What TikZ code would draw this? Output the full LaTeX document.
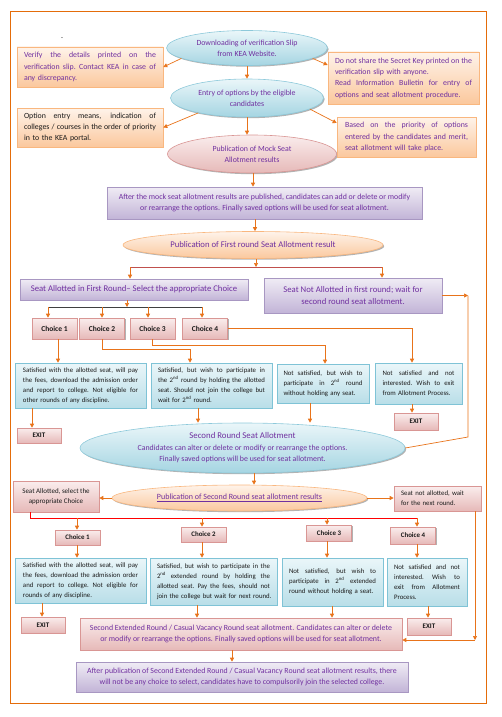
\documentclass[tikz,border=0pt]{standalone}
\usepackage{fontspec}
\setmainfont{Carlito}
\usetikzlibrary{shapes.geometric,arrows.meta,shadows,calc}
\definecolor{purp}{HTML}{7030A0}
\definecolor{ornl}{HTML}{E8731A}
\definecolor{brl}{HTML}{C0504D}
\definecolor{bord}{HTML}{E46C0A}
\definecolor{blB}{HTML}{8DC9DA}
\definecolor{blT}{HTML}{EAF6F9}
\definecolor{blBot}{HTML}{A5D5E2}
\definecolor{pkB}{HTML}{D99694}
\definecolor{pkT}{HTML}{FAEDED}
\definecolor{pkBot}{HTML}{E6B9B8}
\definecolor{peB}{HTML}{F9B77F}
\definecolor{peT}{HTML}{FEF3EA}
\definecolor{peBot}{HTML}{FBC89D}
\definecolor{lvB}{HTML}{A897C2}
\definecolor{lvT}{HTML}{F0ECF5}
\definecolor{lvBot}{HTML}{C2B4D7}
\definecolor{bbB}{HTML}{7FC3D6}
\definecolor{bbT}{HTML}{EAF6F9}
\definecolor{bbBot}{HTML}{B9DEE8}
\definecolor{txt}{HTML}{1A1A1A}
\newcommand\jline[1]{\noindent\hbox to \linewidth{\spaceskip=\fontdimen2\font plus 1fil minus 0.3\fontdimen2\font\relax\xspaceskip=\spaceskip #1}\par}
\newcommand\pline[1]{\noindent\hbox{#1}\par}
\newcommand\fA{\fontsize{7.85}{11.3}\selectfont}
\newcommand\fB{\fontsize{6.8}{10}\selectfont}
\newcommand\fC{\fontsize{8.7}{12.5}\selectfont}
\begin{document}
\begin{tikzpicture}[x=1pt,y=-1pt,
 shad/.style={drop shadow={shadow xshift=1.2pt,shadow yshift=-1.2pt,opacity=0.3,fill=black}},
 ell/.style={ellipse,inner sep=0pt,align=center,shad,line width=0.6pt},
 blueell/.style={ell,draw=blB,top color=blT,bottom color=blBot,text=purp},
 pinkell/.style={ell,draw=pkB,top color=pkT,bottom color=pkBot,text=purp},
 peachell/.style={ell,draw=peB,top color=peT,bottom color=peBot,text=purp},
 box/.style={rectangle,inner ysep=0pt,shad,line width=0.6pt},
 peachbox/.style={box,draw=peB,top color=peT,bottom color=peBot},
 lavbox/.style={box,draw=lvB,top color=lvT,bottom color=lvBot,text=purp,align=center},
 bluebox/.style={box,draw=bbB,top color=bbT,bottom color=bbBot,text=txt,font=\fB,align=left},
 pinkbox/.style={box,draw=pkB,top color=pkT,bottom color=pkBot},
 chbox/.style={pinkbox,text=txt,font=\bfseries\fontsize{7.5}{8}\selectfont,minimum width=45pt},
 chboxb/.style={pinkbox,text=txt,font=\bfseries\fontsize{6.9}{8}\selectfont,minimum width=45pt},
 exbox/.style={pinkbox,text=txt,font=\bfseries\fontsize{7}{8}\selectfont,minimum width=44pt},
 arr/.style={draw=ornl,line width=0.7pt,-{Triangle[length=4pt,width=4pt]}},
 ln/.style={draw=ornl,line width=0.7pt},
 brln/.style={draw=brl,line width=0.8pt},
 blkln/.style={draw=black!75,line width=0.8pt},
 redln/.style={draw=red,line width=0.8pt}]
\useasboundingbox (0,0) rectangle (501,717);
\draw[draw=bord,line width=0.9pt] (10,11) rectangle (486,703);
\node[font=\fA] (dot) at (62,38) {.};

% top ellipses
\node[blueell,font=\fA,minimum width=161pt,minimum height=35pt] (e1) at (247,48) {Downloading of verification Slip\\from KEA Website.};
\node[blueell,font=\fA,minimum width=153pt,minimum height=38pt] (e2) at (247,98) {Entry of options by the eligible\\candidates};
\node[pinkell,font=\fA,minimum width=169pt,minimum height=38pt] (e3) at (252,154) {Publication of Mock Seat\\Allotment results};

% side boxes
\node[peachbox,text=purp,font=\fA,text width=132pt,inner xsep=7pt,minimum height=40pt,align=left] (lb1) at (90,67)
 {\jline{Verify the details printed on the}\jline{verification slip. Contact KEA in case of}\pline{any discrepancy.}};
\node[peachbox,text=txt,font=\fA,text width=132pt,inner xsep=7pt,minimum height=39pt,align=left] (lb2) at (90,127.5)
 {\jline{Option entry means, indication of}\jline{colleges / courses in the order of priority}\pline{in to the KEA portal.}};
\node[peachbox,text=purp,font=\fA,text width=137pt,inner xsep=7pt,minimum height=52pt,align=left] (rb1) at (403.5,78)
 {\jline{Do not share the Secret Key printed on the}\pline{verification slip with anyone.}\jline{Read Information Bulletin for entry of}\pline{options and seat allotment procedure.}};
\node[peachbox,text=purp,font=\fA,text width=123pt,inner xsep=8pt,minimum height=40pt,align=left] (rb2) at (406.5,137)
 {\jline{Based on the priority of options}\jline{entered by the candidates and merit,}\pline{seat allotment will take place.}};

\node[lavbox,font=\fA,minimum width=315pt,minimum height=32pt] (pm) at (264.5,203)
 {After the mock seat allotment results are published, candidates can add or delete or modify\\or rearrange the options. Finally saved options will be used for seat allotment.};
\node[peachell,font=\fC,minimum width=260pt,minimum height=27pt] (p1) at (253,245) {Publication of First round Seat Allotment result};

\node[lavbox,font=\fC,minimum width=228pt,minimum height=21pt] (sa) at (134,289.5) {Seat Allotted in First Round– Select the appropriate Choice};
\node[lavbox,font=\fC,minimum width=178pt,minimum height=35pt] (sn) at (353,295.5) {Seat Not Allotted in first round; wait for\\second round seat allotment.};

% first round choices
\node[chbox,minimum height=21pt] (ch1) at (54.5,328.5) {Choice 1};
\node[chbox,minimum height=21pt] (ch2) at (102,328.5) {Choice 2};
\node[chbox,minimum height=21pt] (ch3) at (152.5,328.5) {Choice 3};
\node[chbox,minimum height=21pt] (ch4) at (205,328.5) {Choice 4};

\node[bluebox,text width=115pt,inner xsep=8pt,minimum height=45pt] (d1) at (80.5,385.5)
 {\jline{Satisfied with the allotted seat, will pay}\jline{the fees, download the admission order}\jline{and report to college. Not eligible for}\pline{other rounds of any discipline.}};
\node[bluebox,text width=107pt,inner xsep=7pt,minimum height=45pt] (d2) at (211.5,385.5)
 {\jline{Satisfied, but wish to participate in}\jline{the 2\textsuperscript{nd} round by holding the allotted}\jline{seat. Should not join the college but}\pline{wait for 2\textsuperscript{nd} round.}};
\node[bluebox,text width=79pt,inner xsep=6.5pt,minimum height=39pt] (d3) at (323,383.5)
 {\jline{Not satisfied, but wish to}\jline{participate in 2\textsuperscript{nd} round}\pline{without holding any seat.}};
\node[bluebox,text width=72pt,inner xsep=7.5pt,minimum height=41pt] (d4) at (418.5,383.5)
 {\jline{Not satisfied and not}\jline{interested. Wish to exit}\pline{from Allotment Process.}};

\node[exbox,minimum height=15pt] (ex1) at (39,435.5) {EXIT};
\node[exbox,minimum height=17pt] (ex4) at (416,421.5) {EXIT};

% second round
\node[blueell,font=\fontsize{7.85}{11.5}\selectfont,minimum width=325pt,minimum height=50pt] (e4) at (242.5,448)
 {{\fontsize{8.8}{11.5}\selectfont Second Round Seat Allotment}\\Candidates can alter or delete or modify or rearrange the options.\\Finally saved options will be used for seat allotment.};
\node[peachell,font=\fontsize{8}{10}\selectfont,minimum width=255pt,minimum height=26pt] (p2) at (239.5,498) {\underline{Publication of Second Round seat allotment results}};
\node[pinkbox,text=txt,font=\fontsize{7}{10}\selectfont,align=center,minimum width=86pt,minimum height=31pt] (sa2) at (56,496.5) {Seat Allotted, select the\\appropriate Choice};
\node[pinkbox,text=txt,font=\fB,align=left,text width=73pt,inner xsep=7pt,minimum height=25pt] (sn2) at (437.5,498.5) {\pline{Seat not allotted, wait}\pline{for the next round.}};

\node[chboxb,minimum height=15pt] (c1) at (77.5,537.5) {Choice 1};
\node[chboxb,minimum height=15pt] (c2) at (203.5,534.5) {Choice 2};
\node[chboxb,minimum height=16pt] (c3) at (329,533) {Choice 3};
\node[chboxb,minimum height=17pt] (c4) at (413,535.5) {Choice 4};

\node[bluebox,text width=115pt,inner xsep=8pt,minimum height=45pt] (sd1) at (80.5,580.5)
 {\jline{Satisfied with the allotted seat, will pay}\jline{the fees, download the admission order}\jline{and report to college. Not eligible for}\pline{rounds of any discipline.}};
\node[bluebox,text width=113pt,inner xsep=7pt,minimum height=47pt] (sd2) at (213.5,581.5)
 {\jline{Satisfied, but wish to participate in the}\jline{2\textsuperscript{nd} extended round by holding the}\jline{allotted seat. Pay the fees, should not}\pline{join the college but wait for next round.}};
\node[bluebox,text width=87pt,inner xsep=7pt,minimum height=48pt] (sd3) at (332.5,582)
 {\jline{Not satisfied, but wish to}\jline{participate in 2\textsuperscript{nd} extended}\pline{round without holding a seat.}};
\node[bluebox,text width=66pt,inner xsep=7pt,minimum height=48pt] (sd4) at (427,582)
 {\jline{Not satisfied and not}\jline{interested. Wish to}\jline{exit from Allotment}\pline{Process.}};

\node[exbox,minimum height=16pt] (ex21) at (43,625) {EXIT};
\node[exbox,minimum height=17pt] (ex24) at (429,626.5) {EXIT};

\node[pinkbox,text=purp,font=\fA,align=center,minimum width=322pt,minimum height=32pt] (se) at (241,634)
 {Second Extended Round / Casual Vacancy Round seat allotment. Candidates can alter or delete\\or modify or rearrange the options. Finally saved options will be used for seat allotment.};
\node[lavbox,font=\fA,minimum width=332pt,minimum height=30pt] (fin) at (242,677)
 {After publication of Second Extended Round / Casual Vacancy Round seat allotment results, there\\will not be any choice to select, candidates have to compulsorily join the selected college.};

% ---------- connectors ----------
\draw[arr] (e1.south) -- (e2.north);
\draw[arr] (e2.south) -- (e2.south |- e3.north);
\draw[arr] (253,0 |- e3.south) -- (253,0 |- pm.north);
\draw[arr] (255,0 |- pm.south) -- (255,0 |- p1.north);
\draw[arr] (e1.189) -- (lb1.east);
\draw[arr] (e2.197) -- (lb2.east);
\draw[arr] (e1.-9) -- ([yshift=13pt]rb1.west);
\draw[arr] (e2.-10) -- ([yshift=14pt]rb2.west);

\coordinate (j0) at (256,267);
\coordinate (jl) at (130,267);
\coordinate (jr) at (382,267);
\draw[arr] (j0 |- p1.south) -- (j0);
\draw[brln] (jl) -- (jr);
\draw[arr] (jl) -- (jl |- sa.north);
\draw[arr] (jr) -- (jr |- sn.north);

\coordinate (k0) at (127,307);
\coordinate (k1) at (48,307);
\coordinate (k2) at (102,307);
\coordinate (k3) at (148,307);
\coordinate (k4) at (202,307);
\draw[arr] (k0 |- sa.south) -- (k0);
\draw[blkln] (k1) -- (k4);
\draw[arr] (k1) -- (k1 |- ch1.north);
\draw[arr] (k2) -- (k2 |- ch2.north);
\draw[arr] (k3) -- (k3 |- ch3.north);
\draw[arr] (k4) -- (k4 |- ch4.north);

\draw[arr] (ch4.east) -| (d4.north -| 412,0);
\draw[arr] (ch3.south) -- ++(0,6) -| (d3.north -| 325,0);
\draw[arr] (ch2.south) -- ++(0,10) -| (d2.north -| 190,0);
\draw[arr] (ch1.south -| 58,0) -- (d1.north -| 58,0);
\draw[arr] (d1.south -| 32,0) -- (ex1.north -| 32,0);
\draw[arr] (d4.south -| 412,0) -- (ex4.north -| 412,0);
\draw[arr] (d2.south -| 198,0) -- (e4.north -| 198,0);
\draw[arr] (d3.south -| 310,0) -- (e4.north -| 310,0);

\coordinate (m1) at (468,437);
\draw[arr] (sn.east) -- (sn.east -| m1);
\draw[ln] (sn.east -| m1) -- (m1) -- (e4.east);

\draw[arr] (254,0 |- e4.south) -- (254,0 |- p2.north);
\draw[arr] (p2.west) -- (p2.west -| sa2.east);
\draw[arr] (p2.east) -- (p2.east -| sn2.west);

\coordinate (r0) at (30,518);
\coordinate (r1) at (77,518);
\coordinate (r2) at (202,518);
\coordinate (r3) at (327,518);
\coordinate (r4) at (417,518);
\draw[redln] (sa2.south -| r0) -- (r0) -- (r4);
\draw[arr] (r1) -- (r1 |- c1.north);
\draw[arr] (r2) -- (r2 |- c2.north);
\draw[arr] (r3) -- (r3 |- c3.north);
\draw[arr] (r4) -- (r4 |- c4.north);
\draw[arr] (c1.south -| r1) -- (sd1.north -| r1);
\draw[arr] (c2.south -| r2) -- (sd2.north -| r2);
\draw[arr] (c3.south -| r3) -- (sd3.north -| r3);
\draw[arr] (c4.south -| r4) -- (sd4.north -| r4);

\draw[arr] (sd1.south -| 42,0) -- (ex21.north -| 42,0);
\draw[arr] (sd4.south -| 428,0) -- (ex24.north -| 428,0);
\draw[arr] (sd2.south -| 197,0) -- (se.north -| 197,0);
\draw[arr] (sd3.south -| 332,0) -- (se.north -| 332,0);
\coordinate (q1) at (475,640);
\draw[arr] (sn2.south -| q1) -- (q1);
\draw[arr] (q1) -- (q1 -| se.east);
\draw[arr] (232,0 |- se.south) -- (232,0 |- fin.north);
\end{tikzpicture}
\end{document}
